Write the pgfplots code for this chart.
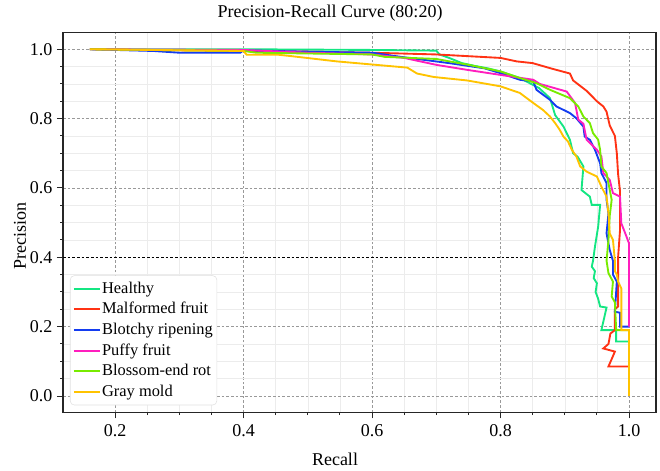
\documentclass[border=0pt]{standalone}
\usepackage{fontspec}
\setmainfont{Liberation Serif}
\usepackage{pgfplots}
\pgfplotsset{compat=1.18}
\definecolor{cHealthy}{RGB}{20,230,130}
\definecolor{cMalformed}{RGB}{255,50,20}
\definecolor{cBlotchy}{RGB}{20,60,240}
\definecolor{cPuffy}{RGB}{255,30,190}
\definecolor{cBlossom}{RGB}{120,235,0}
\definecolor{cGray}{RGB}{255,195,0}
\begin{document}
\begin{tikzpicture}
\begin{axis}[
  scale only axis, width=444.75pt, height=285pt,
  xmin=0.119, xmax=1.042, ymin=-0.047, ymax=1.049,
  xtick={0.2,0.4,0.6,0.8,1.0}, ytick={0,0.2,0.4,0.6,0.8,1.0},
  minor x tick num=3, minor y tick num=3,
  tick pos=left, tick align=outside,
  major tick length=4.5pt, minor tick length=2.2pt,
  grid=both,
  major grid style={gray!80, dash pattern=on 2pt off 1.5pt, line width=0.6pt},
  minor grid style={gray!15, line width=0.4pt},
  axis line style={black!85, line width=0.9pt},
  tick style={black!85, line width=0.7pt},
  /pgf/number format/assume math mode=true,
  ticklabel style={font=\fontsize{13.5}{16}\selectfont},
  xticklabel style={yshift=-1pt},
  xticklabel={\pgfmathprintnumber[fixed,fixed zerofill,precision=1]{\tick}},
  yticklabel={\pgfmathprintnumber[fixed,fixed zerofill,precision=1]{\tick}},
  extra y ticks={0.4}, extra y tick labels={},
  extra y tick style={major grid style={black, dash pattern=on 2pt off 1.5pt, line width=0.6pt}},
  legend cell align=left,
  legend style={at={(0.0118,0.0184)}, anchor=south west, draw=black!12,
    rounded corners=3pt, fill=white,
    font=\fontsize{12.3}{15}\selectfont, inner xsep=2pt, inner ysep=2pt,
    row sep=0pt, nodes={inner sep=1pt, text height=10pt, text depth=3.5pt}},
  legend image code/.code={\draw[#1] (0pt,0pt) -- (19.5pt,0pt);},
  every axis plot/.append style={line width=1.4pt, line join=miter},
]
\coordinate (SW) at (rel axis cs:0,0);
\addplot[cHealthy] coordinates {(0.161,1.0) (0.40,1.0) (0.60,0.998) (0.70,0.996) (0.705,0.985) (0.72,0.975) (0.74,0.96) (0.76,0.952) (0.78,0.945) (0.80,0.936) (0.83,0.917) (0.86,0.888) (0.877,0.859) (0.885,0.81) (0.898,0.777) (0.908,0.739) (0.913,0.70) (0.92,0.69) (0.929,0.662) (0.926,0.594) (0.939,0.575) (0.942,0.551) (0.955,0.551) (0.952,0.489) (0.947,0.431) (0.944,0.39) (0.942,0.373) (0.947,0.36) (0.945,0.34) (0.95,0.325) (0.948,0.30) (0.952,0.28) (0.955,0.258) (0.965,0.255) (0.957,0.19) (0.98,0.19) (0.98,0.157) (1.0,0.157)};
\addlegendentry{Healthy}
\addplot[cMalformed] coordinates {(0.161,1.0) (0.25,0.998) (0.40,0.995) (0.50,0.993) (0.60,0.99) (0.70,0.985) (0.75,0.98) (0.80,0.975) (0.825,0.965) (0.85,0.96) (0.878,0.945) (0.908,0.93) (0.913,0.91) (0.934,0.88) (0.95,0.85) (0.96,0.835) (0.965,0.82) (0.97,0.78) (0.978,0.75) (0.981,0.70) (0.983,0.64) (0.986,0.59) (0.986,0.479) (0.983,0.40) (0.983,0.258) (0.978,0.25) (0.978,0.19) (0.971,0.18) (0.968,0.15) (0.96,0.137) (0.978,0.128) (0.968,0.085) (1.0,0.085)};
\addlegendentry{Malformed fruit}
\addplot[cBlotchy] coordinates {(0.161,1.0) (0.26,0.995) (0.30,0.99) (0.395,0.99) (0.40,0.997) (0.50,0.993) (0.60,0.99) (0.645,0.978) (0.72,0.96) (0.775,0.945) (0.80,0.931) (0.83,0.912) (0.851,0.907) (0.856,0.883) (0.877,0.854) (0.887,0.835) (0.908,0.816) (0.918,0.801) (0.929,0.777) (0.931,0.748) (0.939,0.739) (0.947,0.71) (0.955,0.671) (0.957,0.643) (0.965,0.614) (0.965,0.566) (0.968,0.527) (0.965,0.469) (0.97,0.421) (0.975,0.39) (0.975,0.35) (0.981,0.33) (0.978,0.243) (0.986,0.24) (0.986,0.2) (1.0,0.2)};
\addlegendentry{Blotchy ripening}
\addplot[cPuffy] coordinates {(0.161,1.0) (0.40,0.998) (0.50,0.99) (0.60,0.985) (0.65,0.975) (0.70,0.955) (0.75,0.94) (0.80,0.926) (0.851,0.912) (0.861,0.90) (0.903,0.878) (0.916,0.845) (0.921,0.797) (0.929,0.785) (0.934,0.739) (0.95,0.71) (0.957,0.691) (0.96,0.643) (0.97,0.623) (0.975,0.585) (0.986,0.575) (0.988,0.498) (0.996,0.46) (1.0,0.44) (1.0,0.20)};
\addlegendentry{Puffy fruit}
\addplot[cBlossom] coordinates {(0.161,1.0) (0.40,0.995) (0.42,0.99) (0.60,0.985) (0.62,0.978) (0.70,0.972) (0.75,0.955) (0.80,0.936) (0.83,0.917) (0.856,0.902) (0.877,0.883) (0.908,0.859) (0.921,0.835) (0.929,0.806) (0.939,0.787) (0.944,0.758) (0.952,0.739) (0.955,0.71) (0.957,0.662) (0.965,0.643) (0.97,0.594) (0.973,0.566) (0.970,0.52) (0.968,0.45) (0.965,0.39) (0.968,0.354) (0.975,0.33) (0.973,0.287) (0.978,0.27) (0.98,0.19) (1.0,0.19)};
\addlegendentry{Blossom-end rot}
\addplot[cGray] coordinates {(0.161,1.0) (0.40,0.995) (0.405,0.984) (0.455,0.984) (0.475,0.98) (0.545,0.965) (0.60,0.956) (0.655,0.947) (0.67,0.93) (0.696,0.92) (0.748,0.91) (0.80,0.893) (0.83,0.874) (0.851,0.845) (0.866,0.825) (0.877,0.806) (0.885,0.787) (0.892,0.768) (0.898,0.748) (0.905,0.734) (0.911,0.71) (0.918,0.691) (0.924,0.662) (0.934,0.647) (0.95,0.633) (0.957,0.604) (0.965,0.575) (0.968,0.527) (0.97,0.469) (0.975,0.45) (0.978,0.39) (0.978,0.36) (0.981,0.35) (0.983,0.33) (0.988,0.31) (0.988,0.19) (1.0,0.19) (1.0,0.0)};
\addlegendentry{Gray mold}
\end{axis}
\node[font=\fontsize{13.5}{16}\selectfont] at ([xshift=200.25pt,yshift=299.5pt]SW) {Precision-Recall Curve (80:20)};
\node[font=\fontsize{13.5}{16}\selectfont] at ([xshift=204pt,yshift=-35pt]SW) {Recall};
\node[font=\fontsize{13.5}{16}\selectfont, rotate=90] at ([xshift=-32.25pt,yshift=132pt]SW) {Precision};
\pgfresetboundingbox
\path[use as bounding box] ([xshift=-47.25pt,yshift=-44pt]SW) rectangle ([xshift=447.75pt,yshift=309.2pt]SW);
\end{tikzpicture}
\end{document}
